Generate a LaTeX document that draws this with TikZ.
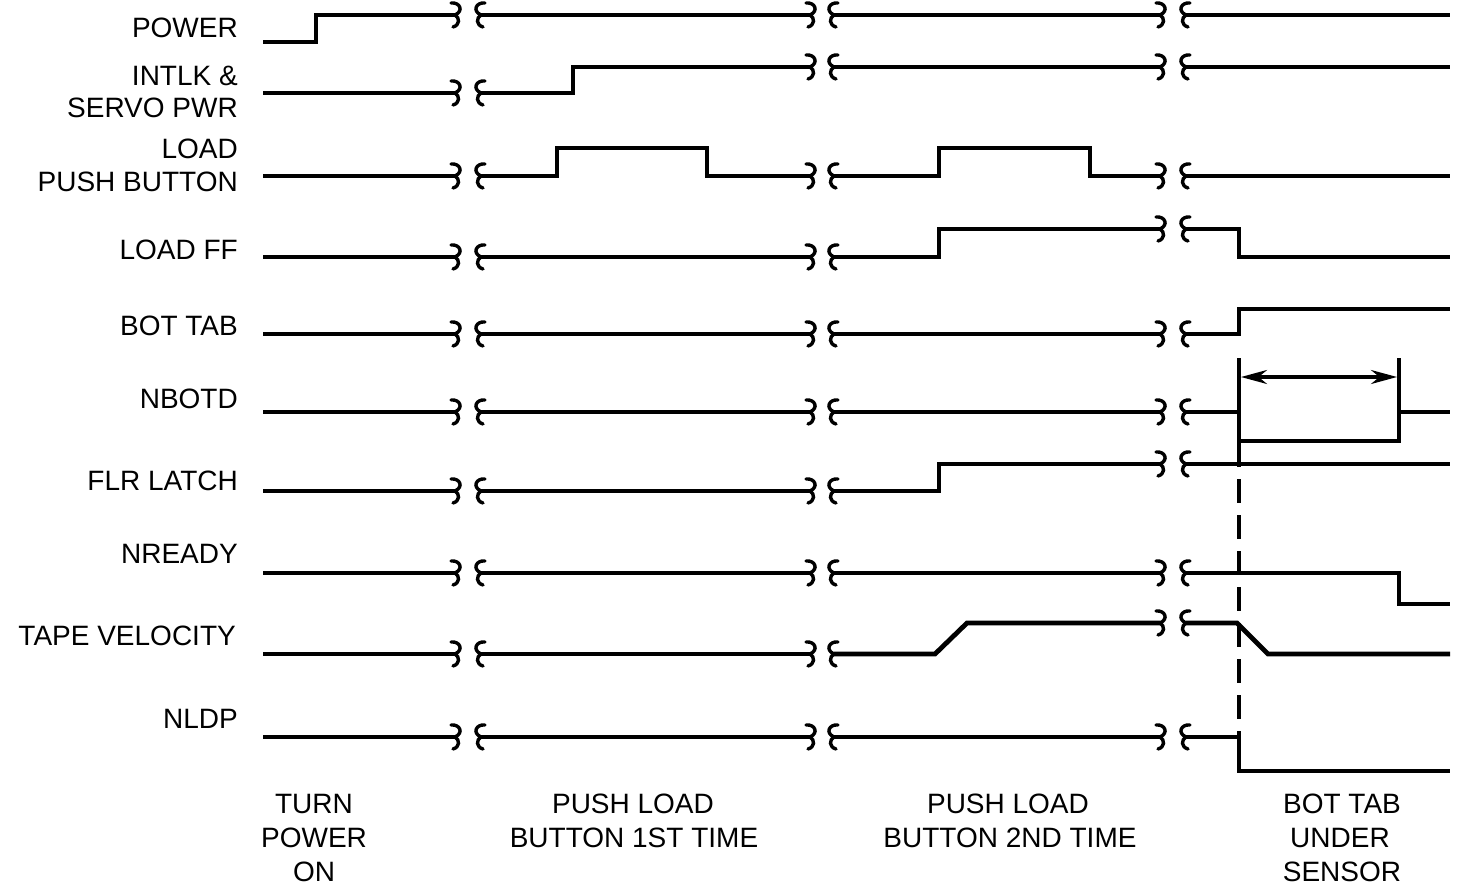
\documentclass[tikz,border=0pt]{standalone}
\usepackage{fontspec}
\setmainfont{Liberation Sans}
\usetikzlibrary{arrows.meta}
\tikzset{
  sig/.style={line width=4.8pt, line join=miter, line cap=butt},
  sq/.style={line width=3.4pt, line cap=round},
  lbl/.style={anchor=base east, inner sep=0pt, font=\fontsize{28}{33}\selectfont},
  blbl/.style={anchor=base, inner sep=0pt, font=\fontsize{28}{33}\selectfont},
  marker/.style={line width=4pt},
  dim/.style={line width=3.2pt, {Stealth[length=26pt,width=14pt]}-{Stealth[length=26pt,width=14pt]}},
  guide/.style={line width=3.6pt, dash pattern=on 24pt off 12pt},
  endsq/.pic={\draw[sq] (-4,-12) .. controls (5,-13) and (9,-4) .. (0,0) .. controls (5,3) and (5,10) .. (-2,12);},
  startsq/.pic={\draw[sq] (4,-12) .. controls (-5,-13) and (-9,-4) .. (0,0) .. controls (-5,3) and (-5,10) .. (2,12);}
}
\newcommand\sqgap[4]{\pic at (#1,#2) {endsq}; \pic at (#3,#4) {startsq};}
\newcommand\brks[6]{\sqgap{455}{#1}{481}{#2}\sqgap{810}{#3}{834}{#4}\sqgap{1160}{#5}{1186}{#6}}
\begin{document}
\begin{tikzpicture}[x=1pt,y=-1pt]
\useasboundingbox (0,0) rectangle (1457,886);
% labels
\node[lbl] (lpower) at (238,37) {POWER};
\node[lbl] (lintlk) at (238,85) {INTLK \&};
\node[lbl] (lservo) at (238,117) {SERVO PWR};
\node[lbl] (lload) at (238,158) {LOAD};
\node[lbl] (lpush) at (238,191) {PUSH BUTTON};
\node[lbl] (lloadff) at (238,259) {LOAD FF};
\node[lbl] (lbottab) at (238,335) {BOT TAB};
\node[lbl] (lnbotd) at (238,408) {NBOTD};
\node[lbl] (lflr) at (238,490) {FLR LATCH};
\node[lbl] (lnready) at (238,563) {NREADY};
\node[lbl] (ltape) at (236,645) {TAPE VELOCITY};
\node[lbl] (lnldp) at (238,728) {NLDP};
% bottom labels
\node[blbl] (b1a) at (314,813) {TURN};
\node[blbl] (b1b) at (314,847) {POWER};
\node[blbl] (b1c) at (314,881) {ON};
\node[blbl] (b2a) at (633,813) {PUSH LOAD};
\node[blbl] (b2b) at (634,847) {BUTTON 1ST TIME};
\node[blbl] (b3a) at (1008,813) {PUSH LOAD};
\node[blbl] (b3b) at (1010,847) {BUTTON 2ND TIME};
\node[blbl] (b4a) at (1342,813) {BOT TAB};
\node[blbl] (b4b) at (1340,847) {UNDER};
\node[blbl] (b4c) at (1342,881) {SENSOR};
% POWER
\draw[sig] (263,42) -- (316,42) -- (316,15) -- (455,15);
\draw[sig] (481,15) -- (810,15);
\draw[sig] (834,15) -- (1160,15);
\draw[sig] (1186,15) -- (1450,15);
\brks{15}{15}{15}{15}{15}{15}
% INTLK
\draw[sig] (263,93) -- (455,93);
\draw[sig] (481,93) -- (573,93) -- (573,67) -- (810,67);
\draw[sig] (834,67) -- (1160,67);
\draw[sig] (1186,67) -- (1450,67);
\brks{93}{93}{67}{67}{67}{67}
% LOAD PUSH BUTTON
\draw[sig] (263,176) -- (455,176);
\draw[sig] (481,176) -- (557,176) -- (557,148) -- (707,148) -- (707,176) -- (810,176);
\draw[sig] (834,176) -- (939,176) -- (939,148) -- (1090,148) -- (1090,176) -- (1160,176);
\draw[sig] (1186,176) -- (1450,176);
\brks{176}{176}{176}{176}{176}{176}
% LOAD FF
\draw[sig] (263,257) -- (455,257);
\draw[sig] (481,257) -- (810,257);
\draw[sig] (834,257) -- (939,257) -- (939,229) -- (1160,229);
\draw[sig] (1186,229) -- (1239,229) -- (1239,257) -- (1450,257);
\brks{257}{257}{257}{257}{229}{229}
% BOT TAB
\draw[sig] (263,334) -- (455,334);
\draw[sig] (481,334) -- (810,334);
\draw[sig] (834,334) -- (1160,334);
\draw[sig] (1186,334) -- (1239,334) -- (1239,309) -- (1450,309);
\brks{334}{334}{334}{334}{334}{334}
% NBOTD
\draw[sig] (263,412) -- (455,412);
\draw[sig] (481,412) -- (810,412);
\draw[sig] (834,412) -- (1160,412);
\draw[sig] (1186,412) -- (1239,412) -- (1239,441) -- (1399,441) -- (1399,412) -- (1450,412);
\brks{412}{412}{412}{412}{412}{412}
\coordinate (m1t) at (1239,358);
\coordinate (m1b) at (1239,412);
\coordinate (m2t) at (1399,358);
\coordinate (m2b) at (1399,416);
\draw[marker] (m1t) -- (m1b);
\draw[marker] (m2t) -- (m2b);
\coordinate (d1) at (1241,377);
\coordinate (d2) at (1397,377);
\draw[dim] (d1) -- (d2);
% FLR LATCH
\draw[sig] (263,491) -- (455,491);
\draw[sig] (481,491) -- (810,491);
\draw[sig] (834,491) -- (939,491) -- (939,464) -- (1160,464);
\draw[sig] (1186,464) -- (1450,464);
\brks{491}{491}{491}{491}{464}{464}
% NREADY
\draw[sig] (263,573) -- (455,573);
\draw[sig] (481,573) -- (810,573);
\draw[sig] (834,573) -- (1160,573);
\draw[sig] (1186,573) -- (1399,573) -- (1399,604) -- (1450,604);
\brks{573}{573}{573}{573}{573}{573}
% TAPE VELOCITY
\draw[sig] (263,654) -- (455,654);
\draw[sig] (481,654) -- (810,654);
\draw[sig] (834,654) -- (935,654) -- (967,623) -- (1160,623);
\draw[sig] (1186,623) -- (1237,623) -- (1268,654) -- (1450,654);
\brks{654}{654}{654}{654}{623}{623}
% NLDP
\draw[sig] (263,737) -- (455,737);
\draw[sig] (481,737) -- (810,737);
\draw[sig] (834,737) -- (1160,737);
\draw[sig] (1186,737) -- (1239,737) -- (1239,771) -- (1450,771);
\brks{737}{737}{737}{737}{737}{737}
% dashed guide
\coordinate (g1) at (1239,443);
\coordinate (g2) at (1239,737);
\draw[guide] (g1) -- (g2);
\end{tikzpicture}
\end{document}
